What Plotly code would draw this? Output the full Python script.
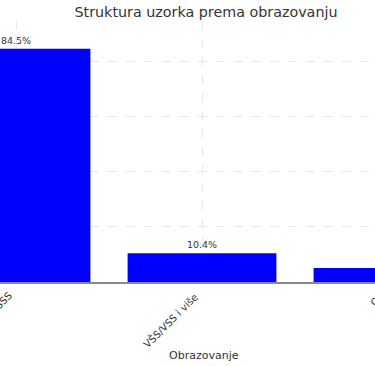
import plotly.graph_objects as go

categories = ["SSS", "VŠS/VSS i više", "OŠ"]
values = [84.5, 10.4, 5.1]
labels = [f"{v:.1f}%" for v in values]

W, H = 375, 366
top, bottom = 21, 84
plot_h = H - top - bottom
x0 = -16 / 186
x1 = x0 + W / 186
grid_color = "rgba(215,215,215,0.6)"

fig = go.Figure()
fig.add_trace(go.Bar(
    x=categories, y=values, width=0.8,
    marker=dict(color="#0000ff", line=dict(width=0)),
    text=labels, textposition="outside", cliponaxis=False,
    textfont=dict(size=9.5, color="#333333", family="DejaVu Sans"),
))

tick_annotations = [
    dict(text=c, x=(i - x0) / (x1 - x0), xref="paper", y=0, yref="paper",
         xanchor="right", yanchor="top",
         textangle=-45, yshift=-5, xshift=1, showarrow=False,
         font=dict(size=10, color="#333333"))
    for i, c in enumerate(categories)
]

fig.update_layout(
    width=W, height=H,
    margin=dict(l=0, r=0, t=top, b=bottom),
    plot_bgcolor="white", paper_bgcolor="white",
    font=dict(family="DejaVu Sans", color="#333333"),
    showlegend=False,
    bargap=0.2,
    title=dict(text="Struktura uzorka prema obrazovanju", x=206 / W, xanchor="center",
               y=1 - 12 / H, yanchor="middle", yref="container",
               font=dict(size=14.3, color="#333333")),
    xaxis=dict(type="category", range=[x0, x1],
               showgrid=True, gridcolor=grid_color, griddash="dash",
               showline=True, linecolor="#888888", linewidth=1.5,
               showticklabels=False, ticks="", layer="above traces"),
    yaxis=dict(range=[0, 94.6], showgrid=True, gridcolor=grid_color,
               griddash="dash", dtick=20, showticklabels=False, zeroline=False,
               layer="above traces"),
    annotations=tick_annotations + [
        dict(text="Obrazovanje", x=203.5 / W, xref="paper", xanchor="center",
             y=-(355 - 282) / plot_h, yref="paper", yanchor="middle",
             showarrow=False, font=dict(size=11, color="#333333"))],
)

fig.write_html("out.html")
